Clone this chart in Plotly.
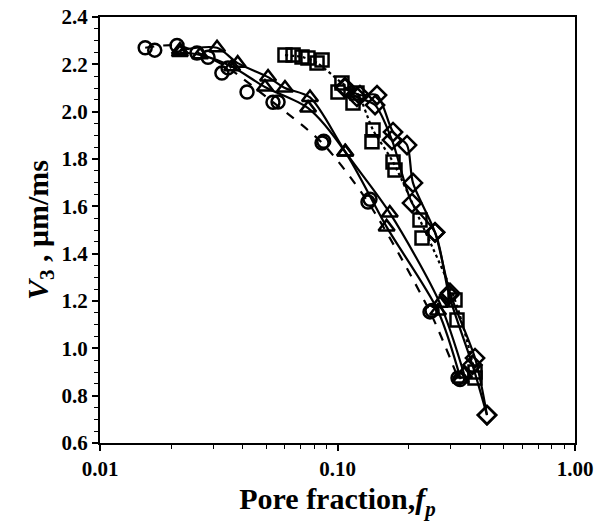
import plotly.graph_objects as go

# Pore fraction (x) and longitudinal velocity V3 (y) for each sample set
circ1_x = [0.0155, 0.0211, 0.0285, 0.0346, 0.0535, 0.0861, 0.1344, 0.2452, 0.3217]
circ1_y = [2.27, 2.28, 2.23, 2.185, 2.04, 1.868, 1.618, 1.154, 0.875]
circ2_x = [0.0170, 0.0256, 0.0326, 0.0416, 0.0562, 0.0875, 0.137, 0.250, 0.328]
circ2_y = [2.26, 2.248, 2.163, 2.083, 2.041, 1.875, 1.63, 1.16, 0.868]

tri1_x = [0.0217, 0.0311, 0.038, 0.051, 0.0601, 0.0766, 0.108, 0.166, 0.270, 0.341]
tri1_y = [2.26, 2.27, 2.205, 2.146, 2.10, 2.06, 1.83, 1.572, 1.19, 0.892]
tri2_x = [0.0217, 0.0264, 0.036, 0.0495, 0.0752, 0.1076, 0.161, 0.265, 0.33]
tri2_y = [2.25, 2.24, 2.19, 2.104, 2.015, 1.83, 1.513, 1.158, 0.87]

sq1_x = [0.0601, 0.0709, 0.0820, 0.1044, 0.1208, 0.1411, 0.1713, 0.2225, 0.3124, 0.3793]
sq1_y = [2.239, 2.231, 2.206, 2.121, 2.079, 1.923, 1.787, 1.542, 1.204, 0.90]
sq2_x = [0.0650, 0.0751, 0.0861, 0.1005, 0.1162, 0.1397, 0.1746, 0.2269, 0.3185, 0.3793]
sq2_y = [2.239, 2.227, 2.218, 2.083, 2.037, 1.873, 1.753, 1.466, 1.12, 0.875]

dia1_x = [0.1075, 0.1243, 0.1467, 0.1713, 0.1962, 0.2079, 0.2574, 0.2977, 0.3793, 0.4260]
dia1_y = [2.104, 2.07, 2.07, 1.914, 1.859, 1.699, 1.49, 1.234, 0.959, 0.718]
dia2_x = [0.1075, 0.1208, 0.1439, 0.1696, 0.2059, 0.2574, 0.2950, 0.370, 0.4260]
dia2_y = [2.10, 2.062, 2.028, 1.88, 1.614, 1.49, 1.225, 0.93, 0.718]

x_ticks = [0.01, 0.1, 1.0]
x_tick_text = ["0.01", "0.10", "1.00"]
x_minor = [0.02, 0.03, 0.04, 0.05, 0.06, 0.07, 0.08, 0.09,
           0.2, 0.3, 0.4, 0.5, 0.6, 0.7, 0.8, 0.9]
y_ticks = [0.6, 0.8, 1.0, 1.2, 1.4, 1.6, 1.8, 2.0, 2.2, 2.4]

FONT = "Liberation Serif"
BLACK = "black"


def series(x, y, symbol, dash=None, size=13):
    mode = "markers+lines" if dash else "markers"
    return go.Scatter(
        x=x, y=y, mode=mode,
        line=dict(color=BLACK, width=2.2, dash=dash or "solid",
                  shape="spline", smoothing=0.8),
        marker=dict(symbol=symbol, size=size, color=BLACK,
                    line=dict(color=BLACK, width=2.5)),
        showlegend=False,
    )


fig = go.Figure()
fig.add_trace(series(circ1_x, circ1_y, "circle-open", dash="dash"))
fig.add_trace(series(circ2_x, circ2_y, "circle-open"))
fig.add_trace(series(tri1_x, tri1_y, "triangle-up-open", dash="solid", size=14))
fig.add_trace(series(tri2_x, tri2_y, "triangle-up-open", dash="solid", size=14))
fig.add_trace(series(sq1_x, sq1_y, "square-open", dash="dot", size=13))
fig.add_trace(series(sq2_x, sq2_y, "square-open", size=13))
fig.add_trace(series(dia1_x, dia1_y, "diamond-open", dash="solid", size=14))
fig.add_trace(series(dia2_x, dia2_y, "diamond-open", dash="solid", size=14))

fig.update_layout(
    width=596, height=527,
    margin=dict(l=100, r=21, t=17, b=84),
    paper_bgcolor="white", plot_bgcolor="white",
    font=dict(family=FONT, color=BLACK),
    xaxis=dict(
        type="log", range=[-2, 0],
        tickmode="array", tickvals=x_ticks,
        ticktext=[f"<b>{t}</b>" for t in x_tick_text],
        ticks="outside", ticklen=6, tickwidth=1.5, tickcolor=BLACK,
        minor=dict(tickmode="array", tickvals=x_minor, ticks="outside",
                   ticklen=4, tickwidth=1, tickcolor=BLACK, showgrid=False),
        tickfont=dict(family=FONT, size=21, color=BLACK),
        showline=True, linecolor=BLACK, linewidth=2, mirror=True,
        showgrid=False, zeroline=False, automargin=False,
        title=dict(text="<b>Pore fraction,<i>f</i><sub><i>p</i></sub></b>",
                   font=dict(family=FONT, size=30, color=BLACK), standoff=8),
    ),
    yaxis=dict(
        range=[0.6, 2.4],
        tickmode="array", tickvals=y_ticks,
        ticktext=[f"<b>{v:.1f}</b>" for v in y_ticks],
        ticks="outside", ticklen=6, tickwidth=1.5, tickcolor=BLACK,
        minor=dict(dtick=0.05, ticks="outside", ticklen=4, tickwidth=1,
                   tickcolor=BLACK, showgrid=False),
        tickfont=dict(family=FONT, size=21, color=BLACK),
        showline=True, linecolor=BLACK, linewidth=2, mirror=True,
        showgrid=False, zeroline=False, automargin=False,
        title=dict(text="<b><i>V</i><sub>3</sub> , \u03bcm/ms</b>",
                   font=dict(family=FONT, size=30, color=BLACK), standoff=4),
    ),
)

fig.write_html("out.html")
